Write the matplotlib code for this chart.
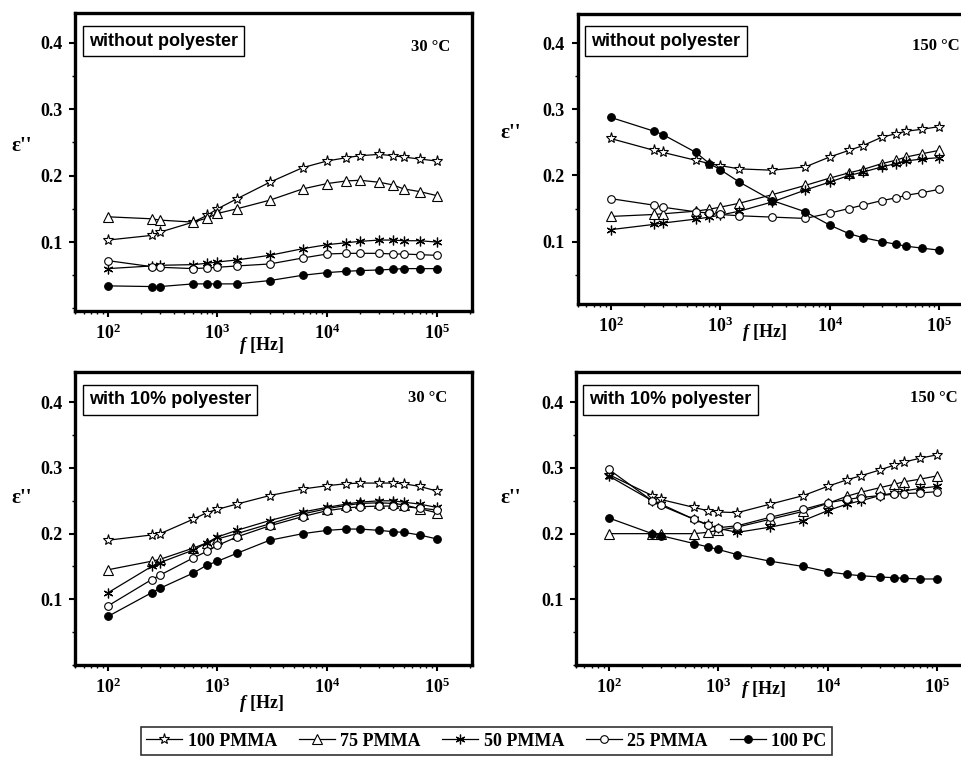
import numpy as np
import matplotlib
matplotlib.use("Agg")
import matplotlib.pyplot as plt
from matplotlib.ticker import FixedLocator, FixedFormatter, MultipleLocator, LogLocator, NullFormatter

plt.rcParams['mathtext.fontset'] = 'custom'
plt.rcParams['mathtext.rm'] = 'Liberation Serif:bold'
plt.rcParams['mathtext.bf'] = 'Liberation Serif:bold'
plt.rcParams['mathtext.it'] = 'Liberation Serif:italic:bold'

# frequency grid (Hz)
freq = [100, 250, 300, 600, 800, 1000, 1500, 3000, 6000, 10000, 15000,
        20000, 30000, 40000, 50000, 70000, 100000]

series_names = ['100 PMMA', '75 PMMA', '50 PMMA', '25 PMMA', '100 PC']

# without polyester, 30 C
wo_30_pmma100 = [0.103, 0.110, 0.115, 0.130, 0.140, 0.150, 0.165, 0.190, 0.212, 0.222, 0.227,
                 0.230, 0.232, 0.230, 0.228, 0.225, 0.222]
wo_30_pmma75 = [0.138, 0.135, 0.133, 0.130, 0.136, 0.143, 0.150, 0.163, 0.180, 0.188, 0.192,
                0.193, 0.190, 0.186, 0.180, 0.176, 0.170]
wo_30_pmma50 = [0.060, 0.064, 0.065, 0.066, 0.068, 0.070, 0.073, 0.080, 0.090, 0.096, 0.099,
                0.101, 0.103, 0.103, 0.102, 0.102, 0.100]
wo_30_pmma25 = [0.072, 0.063, 0.062, 0.060, 0.061, 0.062, 0.064, 0.067, 0.076, 0.082, 0.083,
                0.083, 0.083, 0.082, 0.082, 0.081, 0.080]
wo_30_pc = [0.034, 0.033, 0.033, 0.037, 0.037, 0.037, 0.037, 0.042, 0.050, 0.054, 0.056,
            0.057, 0.058, 0.059, 0.060, 0.060, 0.060]

# without polyester, 150 C
wo_150_pmma100 = [0.256, 0.238, 0.235, 0.223, 0.218, 0.215, 0.210, 0.208, 0.213, 0.228, 0.238,
                  0.245, 0.258, 0.263, 0.267, 0.270, 0.274]
wo_150_pmma75 = [0.138, 0.141, 0.142, 0.146, 0.149, 0.152, 0.158, 0.171, 0.185, 0.196, 0.204,
                 0.209, 0.218, 0.223, 0.228, 0.233, 0.238]
wo_150_pmma50 = [0.118, 0.126, 0.128, 0.134, 0.137, 0.140, 0.146, 0.160, 0.178, 0.190, 0.200,
                 0.205, 0.213, 0.218, 0.222, 0.225, 0.227]
wo_150_pmma25 = [0.165, 0.155, 0.152, 0.145, 0.143, 0.141, 0.139, 0.137, 0.135, 0.143, 0.150,
                 0.155, 0.162, 0.166, 0.170, 0.174, 0.179]
wo_150_pc = [0.288, 0.267, 0.262, 0.235, 0.218, 0.209, 0.190, 0.162, 0.145, 0.125, 0.112,
             0.106, 0.100, 0.096, 0.093, 0.090, 0.087]

# with 10% polyester, 30 C
w_30_pmma100 = [0.190, 0.198, 0.200, 0.222, 0.232, 0.237, 0.245, 0.258, 0.268, 0.273, 0.276,
                0.277, 0.277, 0.277, 0.276, 0.272, 0.265]
w_30_pmma75 = [0.145, 0.158, 0.161, 0.178, 0.186, 0.192, 0.200, 0.215, 0.230, 0.238, 0.243,
               0.246, 0.247, 0.246, 0.244, 0.238, 0.232]
w_30_pmma50 = [0.110, 0.150, 0.156, 0.175, 0.186, 0.195, 0.205, 0.220, 0.233, 0.240, 0.245,
               0.248, 0.250, 0.250, 0.248, 0.245, 0.240]
w_30_pmma25 = [0.090, 0.130, 0.137, 0.163, 0.173, 0.182, 0.195, 0.212, 0.226, 0.235, 0.239,
               0.241, 0.242, 0.242, 0.241, 0.239, 0.236]
w_30_pc = [0.074, 0.110, 0.117, 0.140, 0.152, 0.158, 0.170, 0.190, 0.200, 0.205, 0.207,
           0.207, 0.205, 0.203, 0.202, 0.198, 0.192]

# with 10% polyester, 150 C
w_150_pmma100 = [0.290, 0.258, 0.252, 0.240, 0.235, 0.233, 0.232, 0.245, 0.258, 0.272, 0.282,
                 0.288, 0.297, 0.304, 0.309, 0.315, 0.320]
w_150_pmma75 = [0.200, 0.200, 0.200, 0.200, 0.202, 0.205, 0.210, 0.222, 0.234, 0.246, 0.257,
                0.263, 0.270, 0.275, 0.279, 0.283, 0.288]
w_150_pmma50 = [0.288, 0.250, 0.245, 0.222, 0.214, 0.208, 0.202, 0.210, 0.220, 0.235, 0.245,
                0.250, 0.258, 0.262, 0.265, 0.269, 0.272]
w_150_pmma25 = [0.298, 0.250, 0.243, 0.222, 0.213, 0.209, 0.212, 0.225, 0.237, 0.247, 0.252,
                0.255, 0.258, 0.260, 0.261, 0.262, 0.264]
w_150_pc = [0.224, 0.200, 0.197, 0.185, 0.180, 0.176, 0.168, 0.158, 0.150, 0.142, 0.138,
            0.136, 0.134, 0.133, 0.132, 0.131, 0.131]

x_ticks = [1e2, 1e3, 1e4, 1e5]
x_ticklabels = [r'$\mathbf{10^{2}}$', r'$\mathbf{10^{3}}$', r'$\mathbf{10^{4}}$', r'$\mathbf{10^{5}}$']
y_ticks = [0.1, 0.2, 0.3, 0.4]
y_ticklabels = ['0.1', '0.2', '0.3', '0.4']

# marker styles for each composition
styles = [
    dict(marker='*', ms=8, mfc='white', mec='black', mew=0.8),
    dict(marker='^', ms=7, mfc='white', mec='black', mew=0.8),
    dict(marker=(6, 2, 0), ms=7, mfc='black', mec='black', mew=0.9),
    dict(marker='o', ms=5.5, mfc='white', mec='black', mew=0.8),
    dict(marker='o', ms=5.5, mfc='black', mec='black', mew=0.8),
]

panels = [
    # rect (fig fraction), ylim, box text, temperature, temp xy, data
    ([0.078, 0.589, 0.413, 0.394], (-0.004, 0.445), 'without polyester', '30 \u00b0C', (0.945, 0.886),
     [wo_30_pmma100, wo_30_pmma75, wo_30_pmma50, wo_30_pmma25, wo_30_pc]),
    ([0.601, 0.598, 0.413, 0.384], (0.005, 0.445), 'without polyester', '150 \u00b0C', (0.962, 0.89),
     [wo_150_pmma100, wo_150_pmma75, wo_150_pmma50, wo_150_pmma25, wo_150_pc]),
    ([0.078, 0.1215, 0.413, 0.387], (0.0, 0.446), 'with 10% polyester', '30 \u00b0C', (0.937, 0.911),
     [w_30_pmma100, w_30_pmma75, w_30_pmma50, w_30_pmma25, w_30_pc]),
    ([0.599, 0.1215, 0.413, 0.387], (0.0, 0.446), 'with 10% polyester', '150 \u00b0C', (0.962, 0.911),
     [w_150_pmma100, w_150_pmma75, w_150_pmma50, w_150_pmma25, w_150_pc]),
]

fig = plt.figure(figsize=(9.61, 7.57), dpi=100)

handles = None
for rect, ylim, boxtxt, temp, txy, data in panels:
    ax = fig.add_axes(rect)
    lines = []
    for vals, st in zip(data, styles):
        ln, = ax.plot(freq, vals, color='black', lw=0.9, **st)
        lines.append(ln)
    if handles is None:
        handles = lines
    ax.set_xscale('log')
    ax.set_xlim(50, 2.1e5)
    ax.set_ylim(*ylim)
    ax.xaxis.set_major_locator(FixedLocator(x_ticks))
    ax.xaxis.set_major_formatter(FixedFormatter(x_ticklabels))
    ax.xaxis.set_minor_locator(LogLocator(base=10, subs=np.arange(2, 10)))
    ax.xaxis.set_minor_formatter(NullFormatter())
    ax.yaxis.set_major_locator(FixedLocator(y_ticks))
    ax.yaxis.set_major_formatter(FixedFormatter(y_ticklabels))
    ax.yaxis.set_minor_locator(MultipleLocator(0.05))
    for s in ax.spines.values():
        s.set_linewidth(2.4)
    ax.tick_params(which='major', direction='out', length=4, width=1.5, pad=5,
                   labelsize=13)
    ax.tick_params(which='minor', direction='out', length=2.5, width=1.0)
    for lab in ax.get_xticklabels() + ax.get_yticklabels():
        lab.set_fontfamily('Liberation Serif')
        lab.set_fontweight('bold')
    ax.text(0.035, 0.905, boxtxt, transform=ax.transAxes, ha='left', va='center',
            fontsize=13, fontweight='bold', family='Liberation Sans',
            bbox=dict(boxstyle='square,pad=0.35', fc='white', ec='black', lw=1.0))
    ax.text(txy[0], txy[1], temp, transform=ax.transAxes, ha='right', va='center',
            fontsize=12, fontweight='bold', family='Liberation Serif')

# y labels
for x, y in [(22, 146), (511, 133), (22, 498), (511, 498)]:
    fig.text(x / 961, 1 - y / 757, "\u03b5''", ha='center', va='center', fontsize=15,
             fontweight='bold', family='Liberation Serif')

# x labels
for x, y in [(262, 345), (765, 333), (262, 703), (764, 690)]:
    fig.text(x / 961, 1 - y / 757, r'$\mathit{f}$ [Hz]', ha='center', va='center', fontsize=13,
             fontweight='bold', family='Liberation Serif')

leg = fig.legend(handles, series_names, loc='center', bbox_to_anchor=(0.506, 0.021), ncol=5,
                 frameon=True, fancybox=False, edgecolor='black', handlelength=2.0,
                 handletextpad=0.3, columnspacing=1.2, borderpad=0.3,
                 prop={'family': 'Liberation Serif', 'weight': 'bold', 'size': 13})
leg.get_frame().set_linewidth(1.2)

fig.savefig('out.png', dpi=100)
